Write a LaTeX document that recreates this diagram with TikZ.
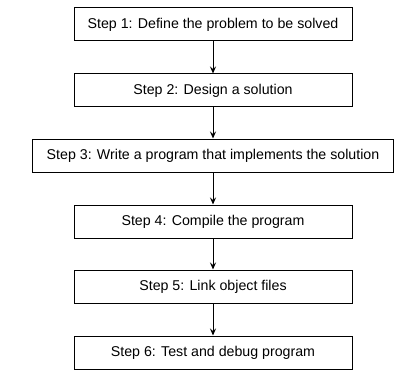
\documentclass[tikz,border=0pt]{standalone}
\usepackage{fontspec}
\setmainfont{Liberation Sans}
\usetikzlibrary{arrows.meta}

\definecolor{flowBackground}{RGB}{255,255,255}
\definecolor{flowBorder}{RGB}{0,0,0}
\definecolor{flowText}{RGB}{0,0,0}

\begin{document}
\begin{tikzpicture}[x=1pt,y=-1pt,
      stepbox/.style={draw=flowBorder, line width=1pt, rectangle,
        minimum width=278pt, minimum height=33pt, inner sep=0pt,
        font=\fontsize{14.2}{16}\selectfont, text=flowText},
      widebox/.style={stepbox, minimum width=361pt},
      flow/.style={draw=flowBorder, line width=1pt,
        -{Stealth[length=7pt,width=6pt,inset=2.5pt]}}]
      \useasboundingbox (0,0) rectangle (401,377);
      \fill[flowBackground] (0,0) rectangle (401,377);

      \node[stepbox] (define) at (213,24.5) {Step 1: Define the problem to be solved};
      \node[stepbox] (design) at (213,90.5) {Step 2: Design a solution};
      \node[widebox] (write) at (213,155.5) {Step 3: Write a program that implements the solution};
      \node[stepbox] (compile) at (213,221.5) {Step 4: Compile the program};
      \node[stepbox] (link) at (213,286.5) {Step 5: Link object files};
      \node[stepbox] (test) at (213,352.5) {Step 6: Test and debug program};

      \draw[flow] (define) -- (design);
      \draw[flow] (design) -- (write);
      \draw[flow] (write) -- (compile);
      \draw[flow] (compile) -- (link);
      \draw[flow] (link) -- (test);
    \end{tikzpicture}
\end{document}
